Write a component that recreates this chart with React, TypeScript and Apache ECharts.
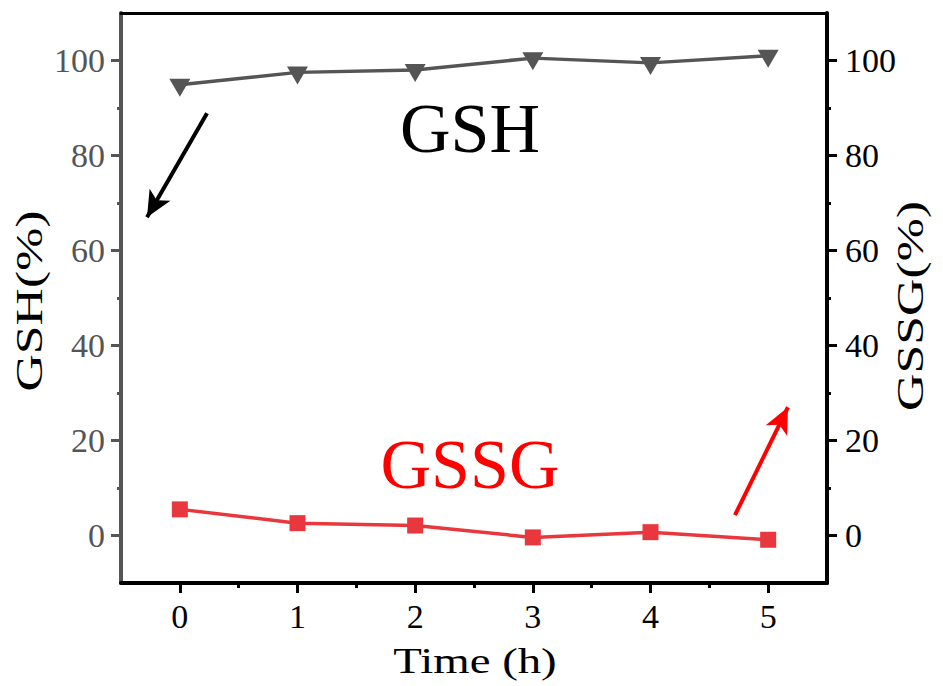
import React, { useEffect, useRef } from "react";
import * as echarts from "echarts";

// Sampling times (h)
const hours = [0, 1, 2, 3, 4, 5];
// Relative GSH and GSSG contents (%)
const gshValues = [94.9, 97.5, 98.0, 100.5, 99.5, 101.0];
const gssgValues = [5.5, 2.6, 2.1, -0.4, 0.7, -0.9];

// Axis ticks
const yMajorTicks = [0, 20, 40, 60, 80, 100];
const yMinorTicks = [10, 30, 50, 70, 90];
const xMajorTicks = [0, 1, 2, 3, 4, 5];
const xMinorTicks = [0.5, 1.5, 2.5, 3.5, 4.5];

// Trend arrows: [tail, head] in data coordinates
const gshArrow = [[0.231, 88.9], [-0.279, 67.0]];
const gssgArrow = [[4.718, 4.3], [5.168, 27.0]];

const FONT = "'Liberation Serif', 'Times New Roman', serif";
const GRAY = "#555555";
const RED = "#E8383D";

export default function App() {
  const ref = useRef<HTMLDivElement>(null);

  useEffect(() => {
    if (!ref.current) return;
    const chart = echarts.init(ref.current, null, { renderer: "svg" });

    const minorY = (position: "left" | "right", color: string) => ({
      type: "value",
      position,
      min: -10,
      max: 110,
      axisLine: { show: false, onZero: false },
      axisTick: {
        show: true,
        customValues: yMinorTicks,
        length: 4,
        lineStyle: { color, width: 3 },
      },
      axisLabel: { show: false },
      splitLine: { show: false },
    });

    const option: any = {
      animation: false,
      backgroundColor: "#ffffff",
      grid: { left: 121, right: 116, top: 13, bottom: 103 },
      xAxis: [
        {
          type: "value",
          min: -0.5,
          max: 5.5,
          axisLine: { show: true, onZero: false, lineStyle: { color: "#000", width: 4 } },
          axisTick: {
            show: true,
            customValues: xMajorTicks,
            length: 10,
            lineStyle: { color: "#000", width: 3 },
          },
          axisLabel: {
            customValues: xMajorTicks,
            color: "#000",
            fontFamily: FONT,
            fontSize: 34,
            margin: 16,
          },
          splitLine: { show: false },
        },
        {
          type: "value",
          position: "top",
          min: -0.5,
          max: 5.5,
          axisLine: { show: true, onZero: false, lineStyle: { color: "#000", width: 3 } },
          axisTick: { show: false },
          axisLabel: { show: false },
          splitLine: { show: false },
        },
        {
          type: "value",
          position: "bottom",
          min: -0.5,
          max: 5.5,
          axisLine: { show: false, onZero: false },
          axisTick: {
            show: true,
            customValues: xMinorTicks,
            length: 5,
            lineStyle: { color: "#000", width: 3 },
          },
          axisLabel: { show: false },
          splitLine: { show: false },
        },
      ],
      yAxis: [
        {
          type: "value",
          position: "left",
          min: -10,
          max: 110,
          axisLine: { show: true, onZero: false, lineStyle: { color: GRAY, width: 4 } },
          axisTick: {
            show: true,
            customValues: yMajorTicks,
            length: 10,
            lineStyle: { color: GRAY, width: 3 },
          },
          axisLabel: {
            customValues: yMajorTicks,
            color: GRAY,
            fontFamily: FONT,
            fontSize: 34,
            margin: 16,
          },
          splitLine: { show: false },
        },
        {
          type: "value",
          position: "right",
          min: -10,
          max: 110,
          axisLine: { show: true, onZero: false, lineStyle: { color: "#000", width: 4 } },
          axisTick: {
            show: true,
            customValues: yMajorTicks,
            length: 10,
            lineStyle: { color: "#000", width: 3 },
          },
          axisLabel: {
            customValues: yMajorTicks,
            color: "#000",
            fontFamily: FONT,
            fontSize: 34,
            margin: 18,
          },
          splitLine: { show: false },
        },
        minorY("left", GRAY),
        minorY("right", "#000"),
      ],
      series: [
        {
          name: "GSH",
          type: "line",
          xAxisIndex: 0,
          yAxisIndex: 0,
          data: hours.map((h, i) => [h, gshValues[i]]),
          symbol: "triangle",
          symbolRotate: 180,
          symbolSize: [21, 18],
          symbolOffset: [0, 3],
          itemStyle: { color: GRAY },
          lineStyle: { color: GRAY, width: 3.5 },
          markLine: {
            silent: true,
            symbol: ["none", "arrow"],
            symbolSize: [18, 26],
            label: { show: false },
            lineStyle: { color: "#000", width: 4, type: "solid" },
            data: [[{ coord: gshArrow[0] }, { coord: gshArrow[1] }]],
          },
          z: 3,
        },
        {
          name: "GSSG",
          type: "line",
          xAxisIndex: 0,
          yAxisIndex: 1,
          data: hours.map((h, i) => [h, gssgValues[i]]),
          symbol: "rect",
          symbolSize: 16,
          itemStyle: { color: RED },
          lineStyle: { color: RED, width: 3.5 },
          markLine: {
            silent: true,
            symbol: ["none", "arrow"],
            symbolSize: [18, 26],
            label: { show: false },
            lineStyle: { color: "#ff0000", width: 4, type: "solid" },
            itemStyle: { color: "#ff0000" },
            data: [[{ coord: gssgArrow[0] }, { coord: gssgArrow[1] }]],
          },
          z: 3,
        },
      ],
      graphic: [
        {
          type: "text",
          x: 470,
          y: 128,
          style: {
            text: "GSH",
            fill: "#000",
            fontFamily: FONT,
            fontSize: 70,
            align: "center",
            verticalAlign: "middle",
          },
        },
        {
          type: "text",
          x: 470,
          y: 464,
          style: {
            text: "GSSG",
            fill: "#ff0000",
            fontFamily: FONT,
            fontSize: 70,
            align: "center",
            verticalAlign: "middle",
          },
        },
        {
          type: "text",
          x: 475,
          y: 661,
          scaleX: 1.3,
          style: {
            text: "Time (h)",
            fill: "#000",
            fontFamily: FONT,
            fontSize: 36,
            align: "center",
            verticalAlign: "middle",
          },
        },
        {
          type: "text",
          x: 30,
          y: 301,
          rotation: Math.PI / 2,
          scaleX: 1.4,
          style: {
            text: "GSH(%)",
            fill: "#000",
            fontFamily: FONT,
            fontSize: 37,
            align: "center",
            verticalAlign: "middle",
          },
        },
        {
          type: "text",
          x: 911,
          y: 306,
          rotation: Math.PI / 2,
          scaleX: 1.4,
          style: {
            text: "GSSG(%)",
            fill: "#000",
            fontFamily: FONT,
            fontSize: 37,
            align: "center",
            verticalAlign: "middle",
          },
        },
      ],
    };

    chart.setOption(option);
    return () => chart.dispose();
  }, []);

  return (
    <div
      ref={ref}
      style={{ position: "fixed", left: 0, top: 0, width: 943, height: 686, background: "#fff" }}
    />
  );
}
